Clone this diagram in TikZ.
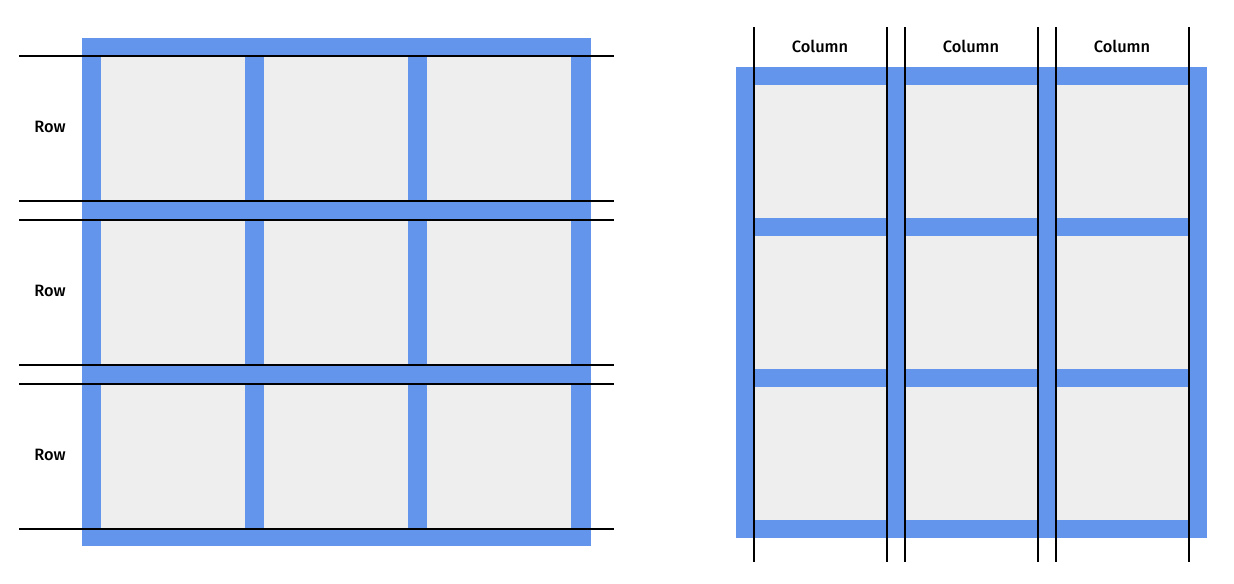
\documentclass[tikz,border=0pt]{standalone}
\usepackage{fontspec}
\setmainfont{Fira Sans}[UprightFont=* Medium]
\usetikzlibrary{positioning}
\definecolor{gridblue}{RGB}{100,149,237}
\definecolor{cellgray}{RGB}{238,238,238}
\begin{document}
\begin{tikzpicture}[x=0.75pt,y=-0.75pt,
    frame/.style={fill=gridblue,draw=none},
    cell/.style={fill=cellgray,draw=none},
    track/.style={line width=1.6pt},
    tracklabel/.style={font=\fontsize{12.3}{14}\selectfont,inner sep=0pt}]
    \useasboundingbox (0,0) rectangle (1234,583);

    % grid of rows
    \fill[frame] (82,38) rectangle (591,546);
    \foreach \R/\Y in {1/56,2/220,3/384}
    {
      \foreach \X in {101,264,427}
        \fill[cell] (\X,\Y) rectangle ++(144,145);
      \draw[track] (19,\Y) -- (614,\Y);
      \draw[track] (19,\Y+145) -- (614,\Y+145);
      \node[tracklabel] (row\R) at (50,\Y+71) {Row};
    }

    % grid of columns
    \fill[frame] (736,67) rectangle (1207,538);
    \foreach \C/\X in {1/754,2/905,3/1056}
    {
      \foreach \Y in {85,236,387}
        \fill[cell] (\X,\Y) rectangle ++(133,133);
      \draw[track] (\X,27) -- (\X,562);
      \draw[track] (\X+133,27) -- (\X+133,562);
      \node[tracklabel] (col\C) at (\X+66,46) {Column};
    }
  \end{tikzpicture}
\end{document}
